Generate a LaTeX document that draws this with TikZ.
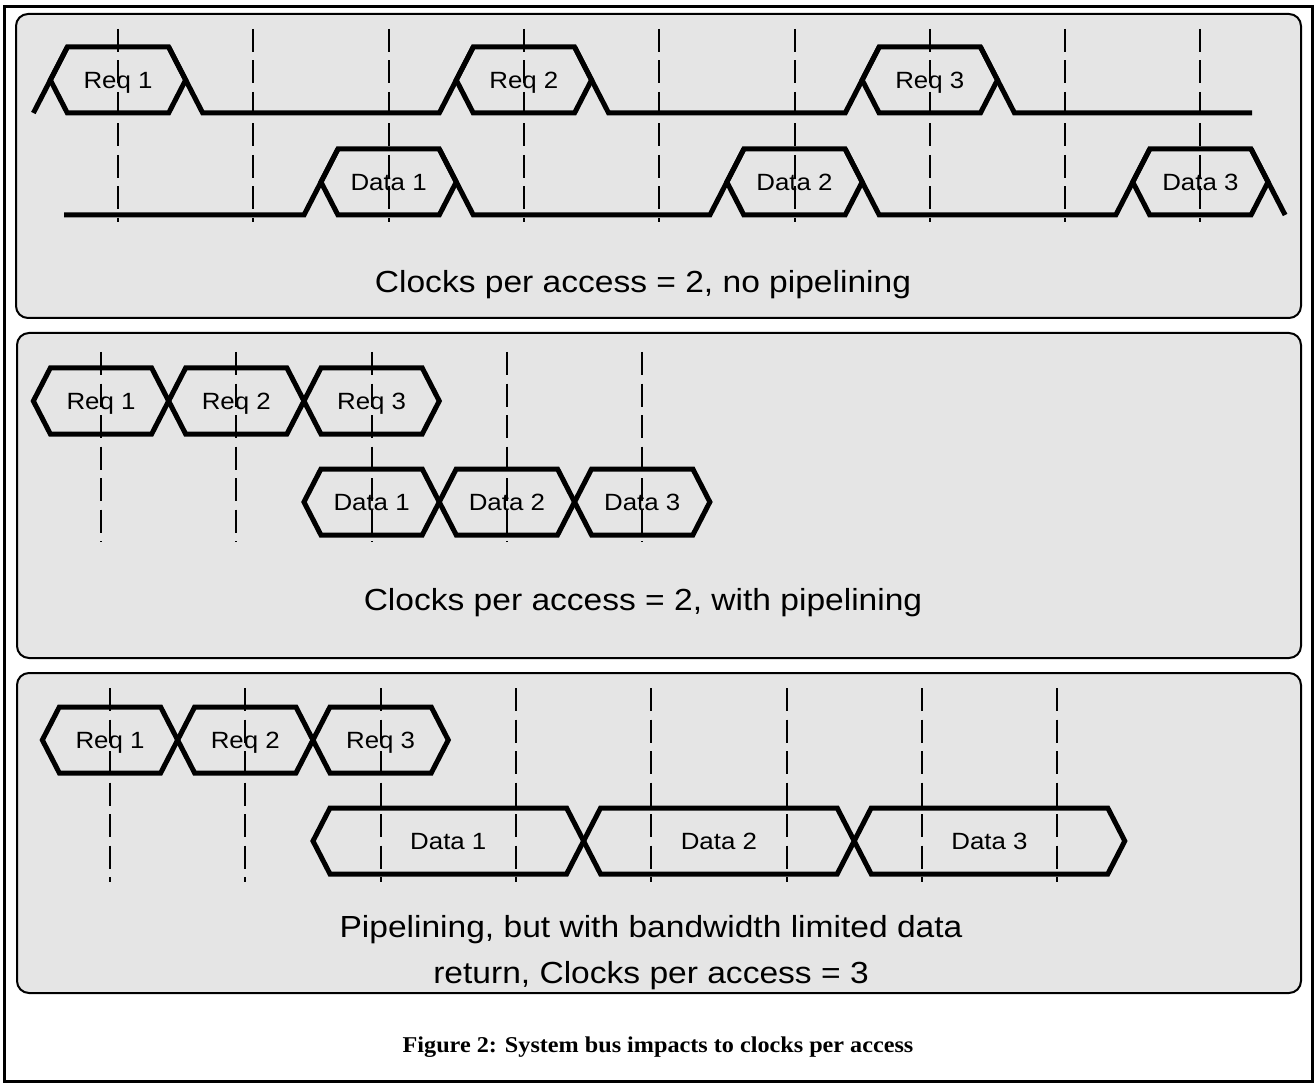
\documentclass[tikz,border=0pt]{standalone}
\usepackage{fontspec}
\setmainfont{Liberation Sans}[FakeStretch=1.1]
\newfontfamily\capfont{Liberation Serif}[FakeStretch=1.07]
\usetikzlibrary{shapes.symbols}

\begin{document}
\begin{tikzpicture}[
    x=1pt, y=-1pt,
    panel/.style={draw=black, line width=2pt, fill=black!10, rounded corners=12pt},
    hexbus/.style={shape=signal, signal to=west and east, signal pointer angle=125.5, draw, line width=5pt, minimum width=135.3pt, minimum height=66pt, inner sep=0pt, text height=16.8pt, text depth=0pt, font=\fontsize{23.5}{28}\selectfont},
    widebus/.style={hexbus, minimum width=270.6pt},
    idle/.style={line width=5pt, line join=miter},
    clk/.style={line width=2pt, dash pattern=on 23pt off 8.5pt},
    note/.style={font=\fontsize{30.5}{46}\selectfont, align=center, anchor=base},
]
    \useasboundingbox (0,0) rectangle (1315,1083);
    \draw[line width=3pt] (4,7) rectangle (1312,1081);

    % three panels
    \draw[panel] (16,14) rectangle (1301,318);
    \draw[panel] (17,333) rectangle (1301,658);
    \draw[panel] (17,673) rectangle (1301,993);

    % clock edges
    \draw[clk] (118,29) -- (118,222) (253.3,29) -- (253.3,222) (388.6,29) -- (388.6,222)
        (523.9,29) -- (523.9,222) (659.2,29) -- (659.2,222) (794.5,29) -- (794.5,222)
        (929.8,29) -- (929.8,222) (1065.1,29) -- (1065.1,222) (1200.4,29) -- (1200.4,222);
    \draw[clk] (101,352) -- (101,542) (236.3,352) -- (236.3,542) (371.6,352) -- (371.6,542)
        (506.9,352) -- (506.9,542) (642.2,352) -- (642.2,542);
    \draw[clk] (110,688) -- (110,882) (245.3,688) -- (245.3,882) (380.6,688) -- (380.6,882)
        (515.9,688) -- (515.9,882) (651.2,688) -- (651.2,882) (786.5,688) -- (786.5,882)
        (921.8,688) -- (921.8,882) (1057.1,688) -- (1057.1,882);

    % no pipelining
    \node[hexbus] (reqA1) at (118,80) {Req 1};
    \node[hexbus] (reqA2) at (523.9,80) {Req 2};
    \node[hexbus] (reqA3) at (929.8,80) {Req 3};
    \node[hexbus] (datA1) at (388.6,182) {Data 1};
    \node[hexbus] (datA2) at (794.5,182) {Data 2};
    \node[hexbus] (datA3) at (1200.4,182) {Data 3};
    \draw[idle] (33.4,113) -- (67.4,47);
    \draw[idle] (168.7,47) -- (202.7,113) -- (439.3,113) -- (473.3,47);
    \draw[idle] (574.6,47) -- (608.6,113) -- (845.2,113) -- (879.2,47);
    \draw[idle] (980.5,47) -- (1014.5,113) -- (1252,113);
    \draw[idle] (64,215) -- (304,215) -- (338,149);
    \draw[idle] (439.3,149) -- (473.3,215) -- (709.9,215) -- (743.9,149);
    \draw[idle] (845.2,149) -- (879.2,215) -- (1115.8,215) -- (1149.8,149);
    \draw[idle] (1251.1,149) -- (1285.1,215);
    \node[note] (noteA) at (643,293) {Clocks per access = 2, no pipelining};

    % with pipelining
    \node[hexbus] (reqB1) at (101,401) {Req 1};
    \node[hexbus] (reqB2) at (236.3,401) {Req 2};
    \node[hexbus] (reqB3) at (371.6,401) {Req 3};
    \node[hexbus] (datB1) at (371.6,502) {Data 1};
    \node[hexbus] (datB2) at (506.9,502) {Data 2};
    \node[hexbus] (datB3) at (642.2,502) {Data 3};
    \node[note] (noteB) at (643,610) {Clocks per access = 2, with pipelining};

    % bandwidth limited
    \node[hexbus] (reqC1) at (110,740) {Req 1};
    \node[hexbus] (reqC2) at (245.3,740) {Req 2};
    \node[hexbus] (reqC3) at (380.6,740) {Req 3};
    \node[widebus] (datC1) at (448.3,841) {Data 1};
    \node[widebus] (datC2) at (718.9,841) {Data 2};
    \node[widebus] (datC3) at (989.5,841) {Data 3};
    \node[note] (noteC) at (651,983) {Pipelining, but with bandwidth limited data\\return, Clocks per access = 3};

    \node[font=\capfont\bfseries\fontsize{22.6}{27}\selectfont, anchor=base] (figcap) at (658,1052) {Figure 2: System bus impacts to clocks per access};
\end{tikzpicture}
\end{document}
